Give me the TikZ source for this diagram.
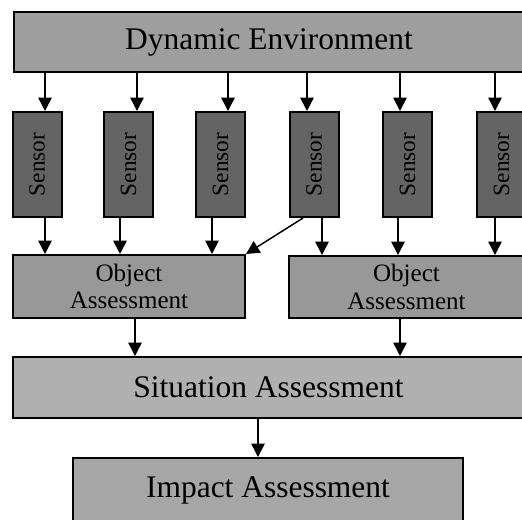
\documentclass[tikz,border=0pt]{standalone}
\usepackage{fontspec}
\setmainfont{Liberation Serif}
\usetikzlibrary{arrows.meta}

\tikzset{every picture/.style={line width=0.75pt}}
\tikzset{
  block/.style={draw, line width=1.5pt, inner sep=0.75pt, align=center},
  bigblock/.style={block, font=\fontsize{23.6}{26}\selectfont},
  objblock/.style={block, font=\fontsize{18.8}{20.5}\selectfont},
  sensorblock/.style={block, fill=sensorgray, minimum width=36.75pt, minimum height=78.75pt},
  flow/.style={line width=1.1pt, -{Triangle[width=10pt,length=10pt]}}
}
\definecolor{envgray}{RGB}{158,158,158}
\definecolor{sensorgray}{RGB}{100,100,100}
\definecolor{objgray}{RGB}{152,152,152}
\definecolor{sitgray}{RGB}{176,176,176}
\definecolor{impgray}{RGB}{166,166,166}

\begin{document}
\begin{tikzpicture}[x=0.75pt,y=0.75pt,yscale=-1,xscale=1]
	\useasboundingbox (0,0) rectangle (522,519);
	
	%Shape: Rectangle [environment]
	\node [bigblock, fill=envgray, minimum width=382.5pt, minimum height=45pt] (env) at (269,42) {Dynamic Environment};
	
	%Shape: Rectangle [sensors]
	\foreach \i/\cx in {1/37,2/128.5,3/220.5,4/314,5/407.5,6/501.5}
		\node [sensorblock] (s\i) at (\cx,164.5) {\rotatebox{90}{\fontsize{17.5}{19}\selectfont Sensor}};
	
	%Shape: Rectangle [object assessment]
	\node [objblock, fill=objgray, minimum width=174pt, minimum height=47.25pt] (oa1) at (129,286.5) {Object\\Assessment};
	\node [objblock, fill=objgray, minimum width=176.25pt, minimum height=46.5pt] (oa2) at (406.5,287) {Object\\Assessment};
	
	%Shape: Rectangle [situation]
	\node [bigblock, fill=sitgray, minimum width=383.25pt, minimum height=45.75pt] (sa) at (268.5,387.5) {Situation Assessment};
	
	%Shape: Rectangle [impact]
	\node [bigblock, fill=impgray, minimum width=292.5pt, minimum height=48pt] (ia) at (268,490) {Impact Assessment};
	
	%Straight Lines [environment to sensors]
	\foreach \i/\ix in {1/45,2/137,3/228,4/307,5/400,6/495}
		\draw [flow] (env.south -| \ix,0) -- (s\i.north -| \ix,0);
	
	%Straight Lines [sensors to object assessment]
	\foreach \i/\ox/\o in {1/45/1,2/120/1,3/212/1,4/322/2,5/398/2,6/495/2}
		\draw [flow] (s\i.south -| \ox,0) -- (oa\o.north -| \ox,0);
	\draw [flow] ([xshift=-8.25pt]s4.south) -- (oa1.north east);
	
	%Straight Lines [object to situation]
	\draw [flow] (oa1.south -| 135,0) -- (sa.north -| 135,0);
	\draw [flow] (oa2.south -| 400,0) -- (sa.north -| 400,0);
	
	%Straight Lines [situation to impact]
	\draw [flow] (sa.south -| 258,0) -- (ia.north -| 258,0);
	
\end{tikzpicture}
\end{document}
